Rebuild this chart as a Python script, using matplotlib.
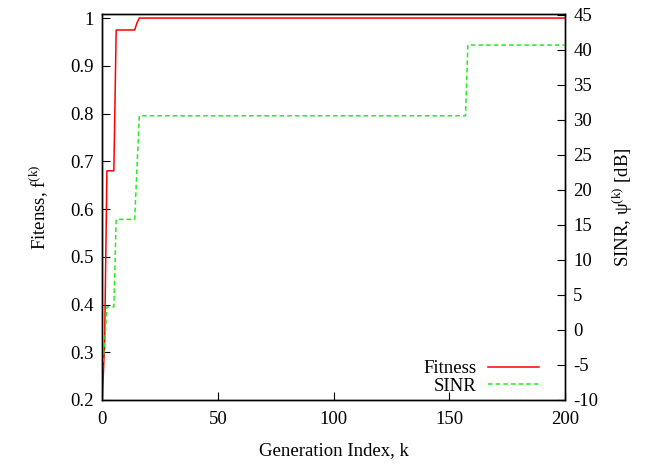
import matplotlib
matplotlib.use("Agg")
import matplotlib.pyplot as plt

# Data (breakpoints of the piecewise-linear curves)
fit_k = [0, 1, 2, 5, 6, 14, 15, 16, 200]
fit_val = [0.2, 0.32, 0.68, 0.68, 0.975, 0.975, 0.99, 1.0, 1.0]
sinr_k = [0, 1, 2, 5, 6, 14, 16, 157, 158, 200]
sinr_val = [-5.7, -2.0, 3.3, 3.3, 15.8, 15.8, 30.6, 30.6, 40.7, 40.7]

x_ticks = [0, 50, 100, 150, 200]
left_ticks = [0.2, 0.3, 0.4, 0.5, 0.6, 0.7, 0.8, 0.9, 1.0]
left_labels = ["0.2", "0.3", "0.4", "0.5", "0.6", "0.7", "0.8", "0.9", "1"]
right_ticks = [-10, -5, 0, 5, 10, 15, 20, 25, 30, 35, 40, 45]

FS = 13.5

plt.rcParams["font.family"] = ["Liberation Serif", "DejaVu Serif"]
plt.rcParams["mathtext.fontset"] = "custom"
plt.rcParams["mathtext.rm"] = "Liberation Serif"
plt.rcParams["mathtext.it"] = "Liberation Serif:italic"
plt.rcParams["axes.unicode_minus"] = False
plt.rcParams["font.size"] = FS

fig = plt.figure(figsize=(6.57, 4.65), dpi=100)
ax = fig.add_axes([0.1557, 0.1398, 0.7043, 0.8301])
ax2 = ax.twinx()

l1, = ax.plot(fit_k, fit_val, color="#ff0000", lw=1.1, label="Fitness")
l2, = ax2.plot(sinr_k, sinr_val, color="#22ee22", lw=1.1, ls=(0, (3, 2)), label="SINR")

ax.set_xlim(0, 200)
ax.set_ylim(0.2, 1.0085)
ax2.set_ylim(-10, 45.14)

ax.set_xticks(x_ticks)
ax.set_xticklabels([str(v) for v in x_ticks])
ax.set_yticks(left_ticks)
ax.set_yticklabels(left_labels)
ax2.set_yticks(right_ticks)
ax2.set_yticklabels([str(v) for v in right_ticks])

ax.tick_params(axis="both", direction="in", length=6, width=0.8, labelsize=FS, pad=6)
ax.tick_params(axis="x", pad=8)
ax.tick_params(axis="y", right=False)
ax2.tick_params(axis="y", direction="in", length=6, width=0.8, labelsize=FS, pad=6)

for a in (ax, ax2):
    for s in a.spines.values():
        s.set_linewidth(1.0)

ax.set_xlabel("Generation Index, k", fontsize=FS, labelpad=10)
ax.set_ylabel(r"Fitenss, f$^{\mathrm{(k)}}$", fontsize=FS, labelpad=15)
ax2.set_ylabel(r"SINR, ψ$^{\mathrm{(k)}}$ [dB]", fontsize=FS, labelpad=9)

leg = ax.legend([l1, l2], ["Fitness", "SINR"], loc="lower right",
                bbox_to_anchor=(0.972, -0.02), frameon=False, markerfirst=False,
                handlelength=2.7, handletextpad=0.65, labelspacing=0.0,
                borderaxespad=0.3, fontsize=FS)

fig.savefig("out.png", dpi=100)
